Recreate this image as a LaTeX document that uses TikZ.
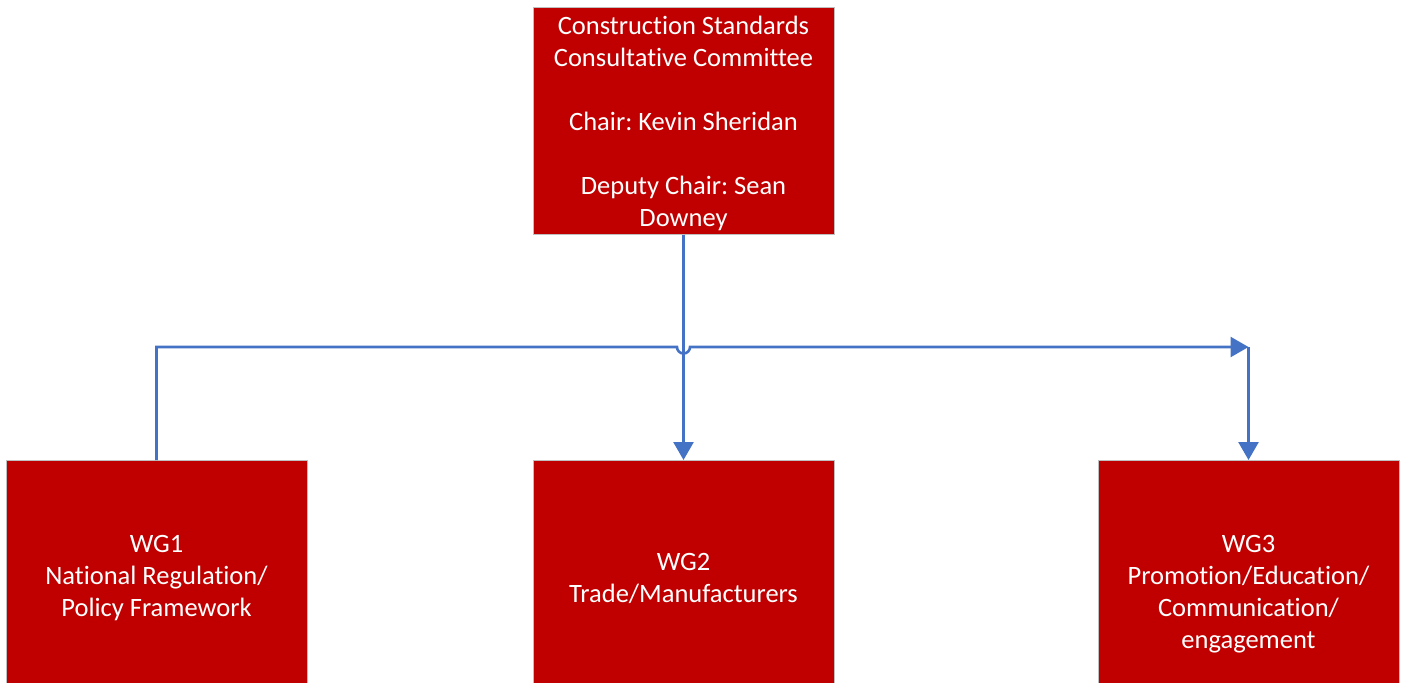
\documentclass[tikz,border=0pt]{standalone}
\usepackage{fontspec}
\setmainfont{Carlito}[Ligatures=NoCommon]
\usetikzlibrary{arrows.meta}
\definecolor{boxred}{HTML}{C00000}
\definecolor{boxedge}{HTML}{BFBFBF}
\definecolor{linkblue}{HTML}{4472C4}
\frenchspacing
\tikzset{
  orgbox/.style={draw=boxedge, line width=1pt, fill=boxred, text=white,
    minimum width=301pt, inner sep=0pt, align=center,
    font=\fontsize{26.5}{32}\selectfont},
  link/.style={draw=linkblue, line width=2.6pt},
  tip/.style={-{Triangle[length=18pt,width=20pt]}}
}
\begin{document}
\begin{tikzpicture}[x=1pt,y=-1pt]
\useasboundingbox (0,0) rectangle (1404,682);
\fill[white] (0,0) rectangle (1404,682);
\node[orgbox, minimum height=226pt] (top) at (683.5,121)
  {\rule{0pt}{24pt}Construction Standards\\Consultative Committee\\[32pt]Chair: Kevin Sheridan\\[32pt]Deputy Chair: Sean\\Downey};
\node[orgbox, minimum height=236pt, anchor=north] (wg1) at (156.5,460)
  {WG1\\National Regulation/\\Policy Framework};
\node[orgbox, minimum height=236pt, anchor=north] (wg2) at (683.5,460)
  {WG2\\Trade/Manufacturers};
\node[orgbox, minimum height=268pt, anchor=north] (wg3) at (1248.5,460)
  {WG3\\Promotion/Education/\\Communication/\\engagement};
\coordinate (turn) at (1248.5,347);
\draw[link, tip] (top.south) -- (wg2.north);
\draw[link, tip] (wg1.north) -- (156.5,347) -- (677,347)
  arc[start angle=180, end angle=0, radius=6.5] -- (turn);
\draw[link, tip] (turn) -- (wg3.north);
\end{tikzpicture}
\end{document}
